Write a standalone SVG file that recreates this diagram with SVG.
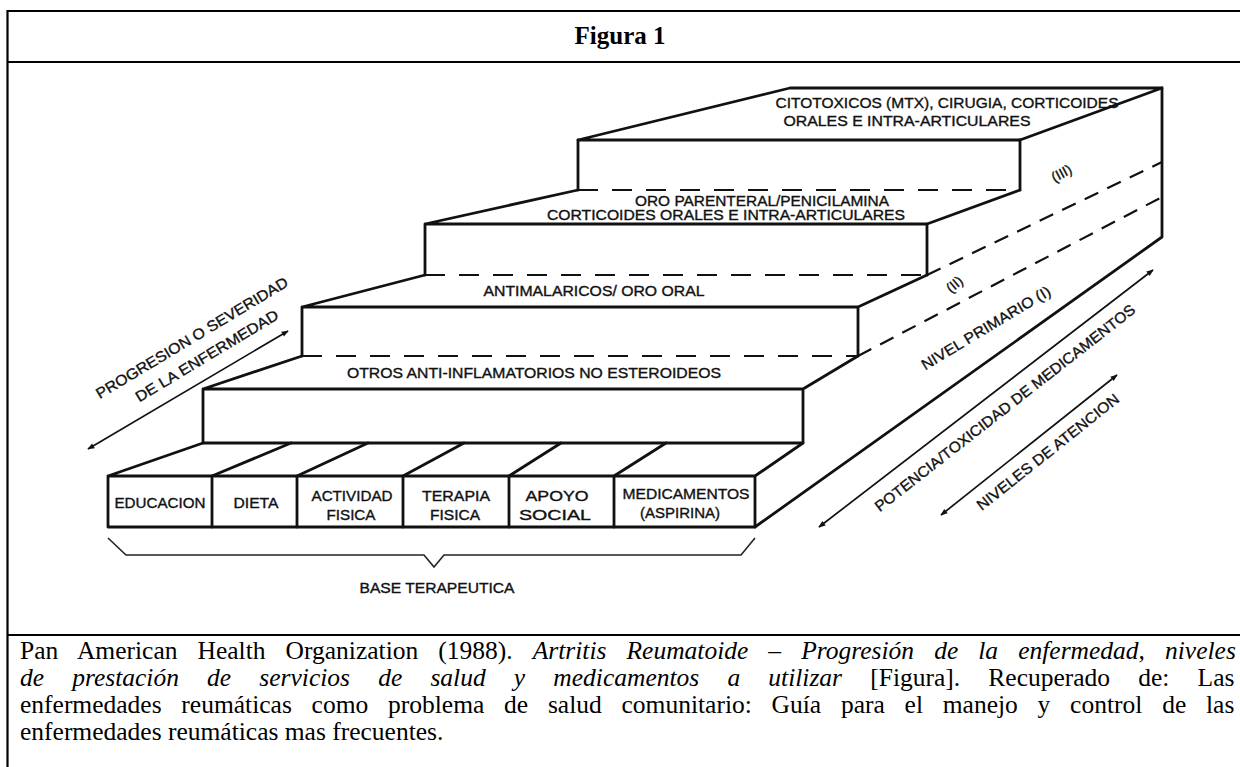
<svg xmlns="http://www.w3.org/2000/svg" width="1240" height="767" viewBox="0 0 1240 767">
<defs>
<marker id="ah" viewBox="0 0 10 10" refX="9" refY="5" markerWidth="9" markerHeight="7" markerUnits="userSpaceOnUse" orient="auto-start-reverse">
<path d="M0,1 L10,5 L0,9 Z" fill="#111"/>
</marker>
<style>
.frame{stroke:#000;stroke-width:2.2;fill:none}
.ln{stroke:#111;stroke-width:2.8;fill:none;stroke-linejoin:round;stroke-linecap:round}
.face{stroke:#111;stroke-width:2.8;fill:#fff;stroke-linejoin:round}
.dash{stroke:#111;stroke-width:2.2;fill:none;stroke-dasharray:20 14}
.sdash{stroke:#111;stroke-width:2.2;fill:none;stroke-dasharray:15 10}
.brace{stroke:#222;stroke-width:1.6;fill:none}
.arr{stroke:#111;stroke-width:1.7;fill:none;marker-start:url(#ah);marker-end:url(#ah)}
.lb{font-family:"Liberation Sans",Arial,sans-serif;font-size:14px;fill:#111;stroke:#111;stroke-width:0.35;text-anchor:middle}
.rl{font-family:"Liberation Sans",Arial,sans-serif;font-size:15px;fill:#111;stroke:#111;stroke-width:0.35;text-anchor:middle}
.cap{font-family:"Liberation Serif","Times New Roman",serif;font-size:25.5px;fill:#000}
.it{font-style:italic}
.title{font-family:"Liberation Serif","Times New Roman",serif;font-size:25px;font-weight:bold;fill:#000;text-anchor:middle}
</style>
</defs>
<rect width="1240" height="767" fill="#fff"/>

<g id="table-frame">
<path class="frame" d="M7.5,11 H1240 M7.5,10 V767 M7.5,62 H1240 M7.5,635 H1240"/>
<text class="title" x="620" y="44">Figura 1</text>
</g>

<g id="step4">
<path class="face" d="M578,140 L790,88 L1162,88 L1020,140 Z"/>
<path class="ln" d="M578,140 V190 M1020,140 V190"/>
<path class="dash" d="M578,190 H1020"/>
<text class="lb" x="947" y="108" textLength="343" lengthAdjust="spacingAndGlyphs">CITOTOXICOS (MTX), CIRUGIA, CORTICOIDES</text>
<text class="lb" x="907" y="126" textLength="247" lengthAdjust="spacingAndGlyphs">ORALES E INTRA-ARTICULARES</text>
</g>

<g id="step3">
<path class="ln" d="M578,190 L425,224 H927 L1020,190 M425,224 V275 M927,224 V275"/>
<path class="dash" d="M425,275 H927"/>
<text class="lb" font-size="13" x="762" y="206" textLength="254" lengthAdjust="spacingAndGlyphs">ORO PARENTERAL/PENICILAMINA</text>
<text class="lb" font-size="13" x="726" y="220" textLength="358" lengthAdjust="spacingAndGlyphs">CORTICOIDES ORALES E INTRA-ARTICULARES</text>
</g>

<g id="step2">
<path class="ln" d="M425,275 L302,307 H858 L927,275 M302,307 V356 M858,307 V356"/>
<path class="dash" d="M302,356 H858"/>
<text class="lb" x="594" y="296" textLength="221" lengthAdjust="spacingAndGlyphs">ANTIMALARICOS/ ORO ORAL</text>
</g>

<g id="step1">
<path class="ln" d="M302,356 L203,389 H803 L858,356 M203,389 V443 H803 V389"/>
<text class="lb" x="534" y="378" textLength="374" lengthAdjust="spacingAndGlyphs">OTROS ANTI-INFLAMATORIOS NO ESTEROIDEOS</text>
</g>

<g id="side-face">
<path class="ln" d="M1162,88 V237 L755,527"/>
<path class="sdash" d="M927,275 L1162,162 M858,356 L1162,197"/>
<text class="lb" font-size="12" transform="translate(1062,174) rotate(-28)" y="4">(III)</text>
<text class="lb" font-size="12" transform="translate(955,285) rotate(-40)" y="4">(II)</text>
<text class="rl" transform="translate(986,328) rotate(-31)" y="5" textLength="148" lengthAdjust="spacingAndGlyphs">NIVEL PRIMARIO (I)</text>
</g>

<g id="base">
<path class="ln" d="M203,443 L108,476 H755 L803,443 M108,476 V527 H755 V476"/>
</g>
<g id="cell-educacion">
<text class="lb" x="160" y="508" textLength="91" lengthAdjust="spacingAndGlyphs">EDUCACION</text>
</g>
<g id="cell-dieta">
<path class="ln" d="M212,476 V527 M212,476 L291,443"/>
<text class="lb" x="256" y="508" textLength="45" lengthAdjust="spacingAndGlyphs">DIETA</text>
</g>
<g id="cell-actividad">
<path class="ln" d="M297,476 V527 M297,476 L368,443"/>
<text class="lb" x="352" y="501" textLength="81" lengthAdjust="spacingAndGlyphs">ACTIVIDAD</text>
<text class="lb" x="351" y="520" textLength="49" lengthAdjust="spacingAndGlyphs">FISICA</text>
</g>
<g id="cell-terapia">
<path class="ln" d="M403,476 V527 M403,476 L464,443"/>
<text class="lb" x="456" y="501" textLength="68" lengthAdjust="spacingAndGlyphs">TERAPIA</text>
<text class="lb" x="455" y="520" textLength="50" lengthAdjust="spacingAndGlyphs">FISICA</text>
</g>
<g id="cell-apoyo">
<path class="ln" d="M509,476 V527 M509,476 L561,443"/>
<text class="lb" x="557" y="501" textLength="63" lengthAdjust="spacingAndGlyphs">APOYO</text>
<text class="lb" x="555" y="520" textLength="72" lengthAdjust="spacingAndGlyphs">SOCIAL</text>
</g>
<g id="cell-medicamentos">
<path class="ln" d="M614,476 V527 M614,476 L666,443"/>
<text class="lb" x="686" y="499" textLength="127" lengthAdjust="spacingAndGlyphs">MEDICAMENTOS</text>
<text class="lb" x="680" y="518" textLength="80" lengthAdjust="spacingAndGlyphs">(ASPIRINA)</text>
</g>

<g id="base-terapeutica">
<path class="brace" d="M108,538 L126,555 H424 L434,567 L444,555 H741 L755,538"/>
<text class="lb" x="437" y="593" textLength="155" lengthAdjust="spacingAndGlyphs">BASE TERAPEUTICA</text>
</g>

<g id="label-progresion">
<text class="rl" transform="translate(192,338) rotate(-31)" y="5" textLength="221" lengthAdjust="spacingAndGlyphs">PROGRESION O SEVERIDAD</text>
<text class="rl" transform="translate(207,356) rotate(-31)" y="5" textLength="164" lengthAdjust="spacingAndGlyphs">DE LA ENFERMEDAD</text>
</g>
<g id="label-potencia">
<text class="rl" transform="translate(1005,408) rotate(-38)" y="5" textLength="326" lengthAdjust="spacingAndGlyphs">POTENCIA/TOXICIDAD DE MEDICAMENTOS</text>
</g>
<g id="label-niveles">
<text class="rl" transform="translate(1048,452) rotate(-38.5)" y="5" textLength="177" lengthAdjust="spacingAndGlyphs">NIVELES DE ATENCION</text>
</g>

<g id="connectors">
<path class="arr" d="M88,449 L288,331"/>
<path class="arr" d="M819,527 L1153,270"/>
<path class="arr" d="M941,515 L1117,375"/>
</g>

<g id="caption">
<text class="cap" x="20" y="659" word-spacing="13.7">Pan American Health Organization (1988). <tspan class="it">Artritis Reumatoide – Progresión de la enfermedad, niveles</tspan></text>
<text class="cap" x="20" y="686" word-spacing="21.8"><tspan class="it">de prestación de servicios de salud y medicamentos a utilizar</tspan> [Figura]. Recuperado de: Las</text>
<text class="cap" x="20" y="713" word-spacing="13.4">enfermedades reumáticas como problema de salud comunitario: Guía para el manejo y control de las</text>
<text class="cap" x="20" y="740">enfermedades reumáticas mas frecuentes.</text>
</g>
</svg>
